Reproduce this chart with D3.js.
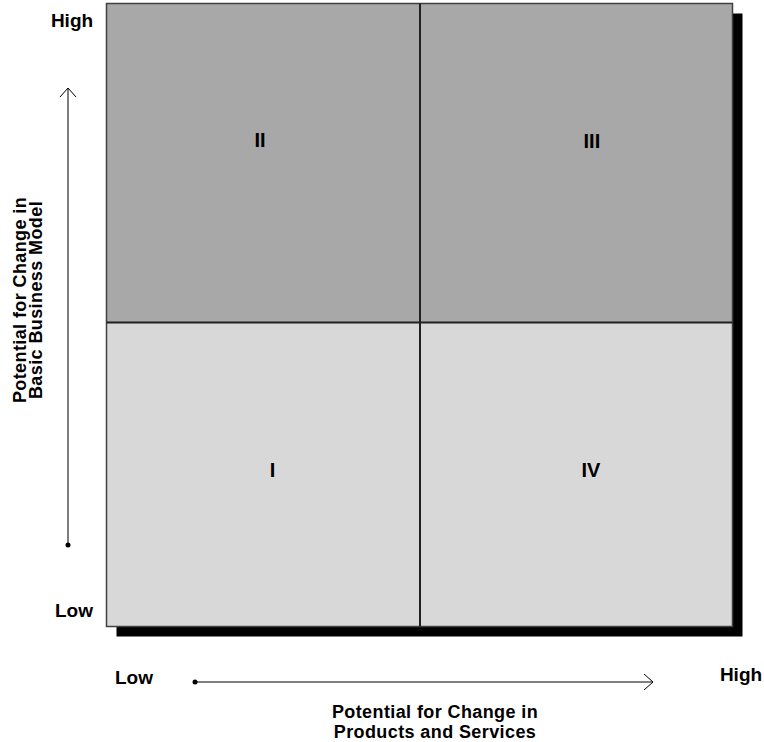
<!DOCTYPE html>
<html>
<head>
<meta charset="utf-8">
<script src="https://cdn.jsdelivr.net/npm/d3@7"></script>
<style>
  body { margin: 0; background: #fff; }
  text { font-family: "Liberation Sans", Arial, sans-serif; font-weight: bold; fill: #000; }
</style>
</head>
<body>
<div class="canvas"></div>
<script>
// Quadrants: column / row index (0 = low, 1 = high)
const quadrants = [
    { id: 'I',   col: 0, row: 0, fill: '#d8d8d8' },
    { id: 'II',  col: 0, row: 1, fill: '#a8a8a8' },
    { id: 'III', col: 1, row: 1, fill: '#a8a8a8' },
    { id: 'IV',  col: 1, row: 0, fill: '#d8d8d8' }
];
// Label positions inside the grid (grid units, 0..2)
const labelPos = [
    { id: 'I',   x: 0.53, y: 0.515 },
    { id: 'II',  x: 0.49, y: 1.574 },
    { id: 'III', x: 1.55, y: 1.569 },
    { id: 'IV',  x: 1.547, y: 0.515 }
];
const levelLabels = ['Low', 'High'];
const xTitle = ['Potential for Change in', 'Products and Services'];
const yTitle = ['Potential for Change in', 'Basic Business Model'];

const width = 764, height = 742;

const svg = d3.select('.canvas')
    .append('svg')
    .attr('width', width)
    .attr('height', height);

// Scales
const x = d3.scaleLinear().domain([0, 1, 2]).range([106.5, 420, 732.5]);
const y = d3.scaleLinear().domain([0, 1, 2]).range([626.5, 322.5, 3.5]);

// Shadow
svg.append('rect')
    .attr('x', x(0) + 10)
    .attr('y', y(2) + 10)
    .attr('width', x(2) - x(0))
    .attr('height', y(0) - y(2))
    .attr('fill', '#000');

// Quadrant cells
svg.selectAll('.cell')
    .data(quadrants)
    .enter()
    .append('rect')
    .attr('class', 'cell')
    .attr('x', d => x(d.col))
    .attr('y', d => y(d.row + 1))
    .attr('width', d => x(d.col + 1) - x(d.col))
    .attr('height', d => y(d.row) - y(d.row + 1))
    .attr('fill', d => d.fill);

// Outer border
svg.append('rect')
    .attr('x', x(0))
    .attr('y', y(2))
    .attr('width', x(2) - x(0))
    .attr('height', y(0) - y(2))
    .attr('fill', 'none')
    .attr('stroke', '#404040')
    .attr('stroke-width', 1.5);

// Divider lines
svg.append('line')
    .attr('x1', x(1)).attr('x2', x(1))
    .attr('y1', y(0)).attr('y2', y(2))
    .attr('stroke', '#202020').attr('stroke-width', 2);
svg.append('line')
    .attr('x1', x(0)).attr('x2', x(2))
    .attr('y1', y(1)).attr('y2', y(1))
    .attr('stroke', '#202020').attr('stroke-width', 2);

const fs = '19px';
const titleFs = '18px';

// Quadrant labels
svg.selectAll('.qlabel')
    .data(labelPos)
    .enter()
    .append('text')
    .attr('class', 'qlabel')
    .attr('x', d => x(d.x))
    .attr('y', d => y(d.y))
    .attr('text-anchor', 'middle')
    .attr('dy', '0.36em')
    .style('font-size', '20px')
    .text(d => d.id);

// Y axis arrow
const ay = { x: 68, top: 88, bottom: 545 };
svg.append('line')
    .attr('x1', ay.x).attr('x2', ay.x)
    .attr('y1', ay.bottom).attr('y2', ay.top)
    .attr('stroke', '#000').attr('stroke-width', 1);
svg.append('path')
    .attr('d', `M${ay.x - 8},${ay.top + 9} L${ay.x},${ay.top} L${ay.x + 8},${ay.top + 9}`)
    .attr('fill', 'none').attr('stroke', '#000').attr('stroke-width', 1);
svg.append('circle').attr('cx', ay.x).attr('cy', ay.bottom).attr('r', 2.5).attr('fill', '#000');

// X axis arrow
const ax = { y: 682, left: 195, right: 653 };
svg.append('line')
    .attr('x1', ax.left).attr('x2', ax.right)
    .attr('y1', ax.y).attr('y2', ax.y)
    .attr('stroke', '#000').attr('stroke-width', 1);
svg.append('path')
    .attr('d', `M${ax.right - 9},${ax.y - 8} L${ax.right},${ax.y} L${ax.right - 9},${ax.y + 8}`)
    .attr('fill', 'none').attr('stroke', '#000').attr('stroke-width', 1);
svg.append('circle').attr('cx', ax.left).attr('cy', ax.y).attr('r', 2.5).attr('fill', '#000');

// Level labels
svg.append('text').attr('x', 72).attr('y', 27).attr('text-anchor', 'middle').style('font-size', fs).text(levelLabels[1]);
svg.append('text').attr('x', 74).attr('y', 617).attr('text-anchor', 'middle').style('font-size', fs).text(levelLabels[0]);
svg.append('text').attr('x', 134).attr('y', 684).attr('text-anchor', 'middle').style('font-size', fs).text(levelLabels[0]);
svg.append('text').attr('x', 741).attr('y', 681).attr('text-anchor', 'middle').style('font-size', fs).text(levelLabels[1]);

// X title
svg.append('g')
    .selectAll('text')
    .data(xTitle)
    .enter()
    .append('text')
    .attr('x', 435)
    .attr('y', (d, i) => 718 + i * 20)
    .attr('text-anchor', 'middle')
    .style('font-size', titleFs)
    .style('letter-spacing', '0.4px')
    .text(d => d);

// Y title (rotated)
svg.append('g')
    .attr('transform', 'translate(0, 300) rotate(-90)')
    .selectAll('text')
    .data(yTitle)
    .enter()
    .append('text')
    .attr('x', 0)
    .attr('y', (d, i) => 26 + i * 16)
    .attr('text-anchor', 'middle')
    .style('font-size', titleFs)
    .style('letter-spacing', '0.4px')
    .text(d => d);
</script>
</body>
</html>
